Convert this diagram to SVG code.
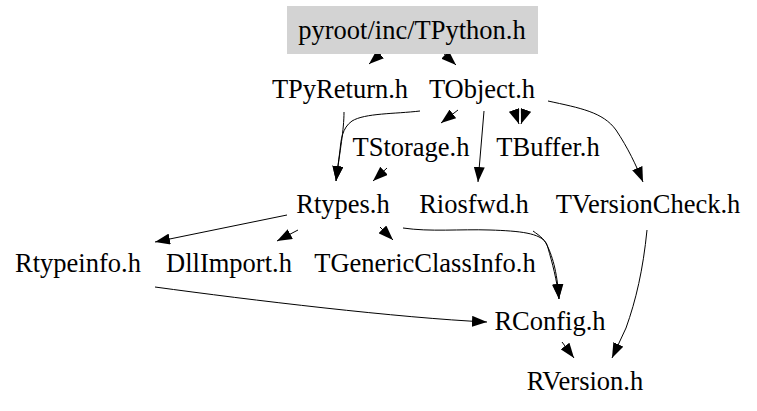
<svg xmlns="http://www.w3.org/2000/svg" width="757" height="411" viewBox="0 0 757 411">
<style>
text { font-family: "Liberation Serif", "Times New Roman", Times, serif; font-size: 26.5px; fill: #000; text-anchor: middle; }
.e { fill: none; stroke: #000; stroke-width: 1; }
</style>
<defs>
<marker id="arr" viewBox="0 0 10 10" refX="10" refY="5" markerUnits="userSpaceOnUse" markerWidth="15" markerHeight="11" preserveAspectRatio="none" orient="auto">
<path d="M0,0 L10,5 L0,10 z" fill="#000"/>
</marker>
</defs>
<rect width="757" height="411" fill="#fff"/>
<g id="connectors">
<path class="e" d="M384,51 L369,64" marker-end="url(#arr)"/>
<path class="e" d="M441,51 L456,65" marker-end="url(#arr)"/>
<path class="e" d="M458,110 L441,123" marker-end="url(#arr)"/>
<path class="e" d="M514,110 L519,124" marker-end="url(#arr)"/>
<path class="e" d="M526,110 L521,124" marker-end="url(#arr)"/>
<path class="e" d="M484,111 L478,182" marker-end="url(#arr)"/>
<path class="e" d="M420,111 C395,114 365,113 352,121 C342,128 341,140 340,150 L336,181" marker-end="url(#arr)"/>
<path class="e" d="M344,112 C344,130 340,150 336,181" marker-end="url(#arr)"/>
<path class="e" d="M387,168 L373,181" marker-end="url(#arr)"/>
<path class="e" d="M548,101 C580,108 603,112 616,130 C628,148 636,165 643,182" marker-end="url(#arr)"/>
<path class="e" d="M287,215 L155,242" marker-end="url(#arr)"/>
<path class="e" d="M298,230 L277,241" marker-end="url(#arr)"/>
<path class="e" d="M380,227 L393,240" marker-end="url(#arr)"/>
<path class="e" d="M403,228 C430,232 460,229 490,230 C520,231 540,233 546,243 C552,255 557,270 559,299" marker-end="url(#arr)"/>
<path class="e" d="M533,231 C540,236 546,240 548,248 C552,262 557,280 559,299" marker-end="url(#arr)"/>
<path class="e" d="M155,287 C250,300 400,318 487,322" marker-end="url(#arr)"/>
<path class="e" d="M647,230 C643,270 636,300 626,328 L612,358" marker-end="url(#arr)"/>
<path class="e" d="M562,342 L574,358" marker-end="url(#arr)"/>
</g>
<g id="node-TPython">
<rect x="287" y="6" width="251" height="48" fill="#d3d3d3"/>
<text x="412" y="39">pyroot/inc/TPython.h</text>
</g>
<g id="node-TPyReturn"><text x="340" y="98">TPyReturn.h</text></g>
<g id="node-TObject"><text x="482" y="98">TObject.h</text></g>
<g id="node-TStorage"><text x="411" y="156">TStorage.h</text></g>
<g id="node-TBuffer"><text x="548" y="156">TBuffer.h</text></g>
<g id="node-Rtypes"><text x="343" y="213">Rtypes.h</text></g>
<g id="node-Riosfwd"><text x="474" y="213">Riosfwd.h</text></g>
<g id="node-TVersionCheck"><text x="648" y="213">TVersionCheck.h</text></g>
<g id="node-Rtypeinfo"><text x="78" y="272">Rtypeinfo.h</text></g>
<g id="node-DllImport"><text x="229" y="272">DllImport.h</text></g>
<g id="node-TGenericClassInfo"><text x="425" y="272">TGenericClassInfo.h</text></g>
<g id="node-RConfig"><text x="550" y="330">RConfig.h</text></g>
<g id="node-RVersion"><text x="585" y="390">RVersion.h</text></g>
</svg>
